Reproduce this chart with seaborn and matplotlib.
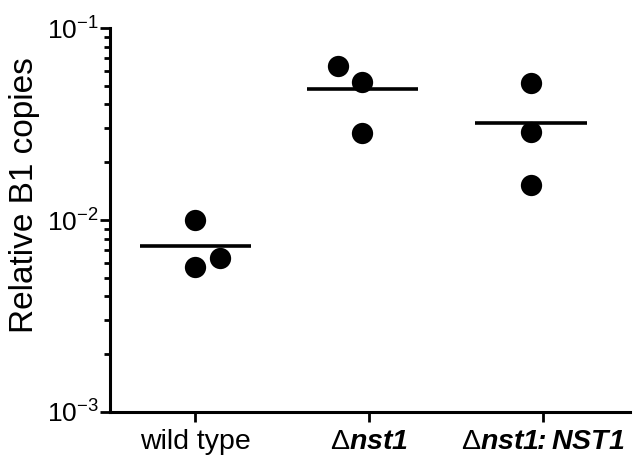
import matplotlib
matplotlib.use("Agg")
import matplotlib.pyplot as plt
import seaborn as sns
import numpy as np
import pandas as pd
from matplotlib.ticker import FixedLocator, LogLocator, NullFormatter

# ---- data ----
categories = ["wild type", "Δnst1", "Δnst1: NST1"]
tick_labels = [r"wild type",
               r"$\mathregular{\Delta}\mathbfit{nst1}$",
               r"$\mathregular{\Delta}\mathbfit{nst1}\!\!\!\>\mathbfit{:}\mathbfit{NST1}$"]
wild_type = [0.0100, 0.00634, 0.00569]
d_nst1 = [0.0634, 0.0523, 0.0284]
d_nst1_NST1 = [0.0518, 0.0287, 0.0152]
# horizontal offsets of the dots inside each group (in category units)
wild_type_dx = [0.0, 0.14, 0.0]
d_nst1_dx = [-0.14, 0.0, 0.0]
d_nst1_NST1_dx = [0.0, 0.0, 0.0]
# small shift of each group's marks relative to its tick, as in the source
group_shift = [0.0, -0.04, -0.07]

sns.set_style("ticks")
plt.rcParams['font.family'] = ['Liberation Sans', 'DejaVu Sans']
plt.rcParams['mathtext.fontset'] = 'custom'
plt.rcParams['mathtext.rm'] = 'Liberation Sans'
plt.rcParams['mathtext.it'] = 'Liberation Sans:italic'
plt.rcParams['mathtext.bf'] = 'Liberation Sans:bold'
plt.rcParams['mathtext.bfit'] = 'Liberation Sans:italic:bold'
plt.rcParams['text.color'] = 'black'
plt.rcParams['axes.labelcolor'] = 'black'
plt.rcParams['xtick.color'] = 'black'
plt.rcParams['ytick.color'] = 'black'

rows = []
for gi, (vals, dxs) in enumerate([(wild_type, wild_type_dx),
                                  (d_nst1, d_nst1_dx),
                                  (d_nst1_NST1, d_nst1_NST1_dx)]):
    for v, dx in zip(vals, dxs):
        rows.append({"group": categories[gi], "pos": gi + group_shift[gi] + dx, "value": v})
df = pd.DataFrame(rows)

fig = plt.figure(figsize=(6.37, 4.67), dpi=100)
ax = fig.add_axes([0.1727, 0.1178, 0.8163, 0.8222])

sns.scatterplot(data=df, x="pos", y="value", color="black", s=235,
                edgecolor="black", linewidth=0, legend=False, ax=ax, zorder=3)

means = df.groupby("group", sort=False)["value"].mean()
for gi, cat in enumerate(categories):
    c = gi + group_shift[gi]
    ax.hlines(means[cat], c - 0.32, c + 0.32, color="black", lw=2.6, zorder=2)

ax.set_yscale("log")
ax.set_ylim(1e-3, 1e-1)
ax.set_xlim(-0.49, 2.5)
ax.set_xticks([0, 1, 2])
ax.set_xticklabels(tick_labels, fontsize=20.5)
ax.yaxis.set_major_locator(FixedLocator([1e-3, 1e-2, 1e-1]))
ax.yaxis.set_minor_locator(LogLocator(base=10, subs=np.arange(2, 10)))
ax.yaxis.set_minor_formatter(NullFormatter())
ax.set_yticklabels([r"$\mathregular{10^{-3}}$", r"$\mathregular{10^{-2}}$",
                    r"$\mathregular{10^{-1}}$"], fontsize=19)
ax.set_xlabel("")
ax.set_ylabel("Relative B1 copies", fontsize=24)
ax.yaxis.set_label_coords(-0.135, 0.565)

for s in ["top", "right"]:
    ax.spines[s].set_visible(False)
for s in ["left", "bottom"]:
    ax.spines[s].set_linewidth(2.2)
    ax.spines[s].set_color("black")
ax.tick_params(axis="y", which="major", length=7, width=2, pad=1)
ax.tick_params(axis="y", which="minor", length=4.5, width=2)
ax.tick_params(axis="x", which="major", length=7, width=2, pad=5)
ax.set_facecolor("white")
fig.patch.set_facecolor("white")

fig.savefig("out.png", dpi=100)
